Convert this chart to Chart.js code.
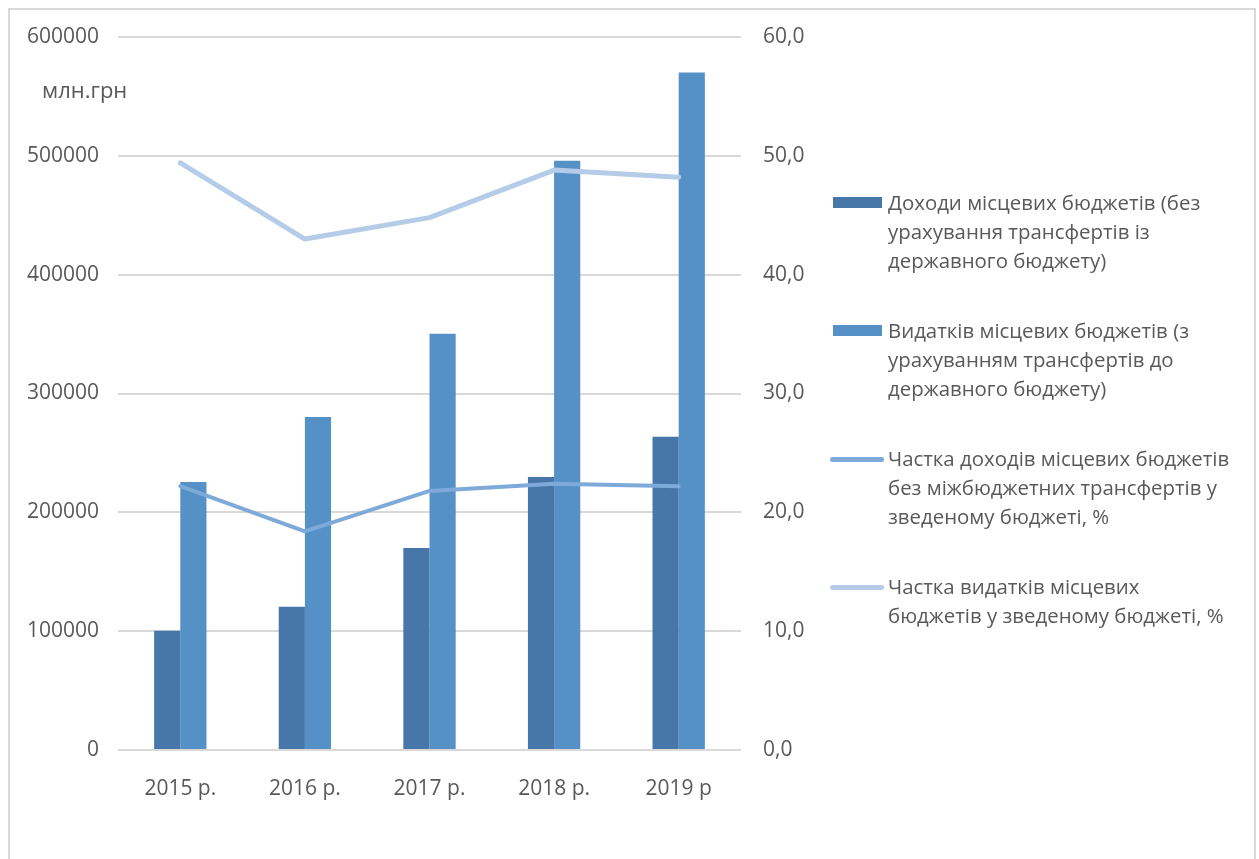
<!DOCTYPE html>
<html lang="uk">
<head>
<meta charset="utf-8">
<title>Доходи та видатки місцевих бюджетів</title>
<script src="https://cdn.jsdelivr.net/npm/chart.js@4.4.1/dist/chart.umd.min.js"></script>
<style>
  html, body { margin: 0; padding: 0; background: #fff; }
  body {
    width: 1259px; height: 859px; position: relative; overflow: hidden;
    font-family: 'Open Sans', sans-serif; color: #595959;
  }
  .frame {
    position: absolute; left: 8px; top: 8px; width: 1248px; height: 900px;
    border: 2px solid #d9d9d9; box-sizing: border-box;
  }
  .chart-box { position: absolute; left: 0; top: 0; width: 820px; height: 859px; }
  .unit { position: absolute; left: 42px; top: 73px; font-size: 22px; line-height: 32px; }
  .legend-item { position: absolute; left: 0; width: 1259px; height: 120px; }
  .legend-swatch { position: absolute; }
  .legend-text {
    position: absolute; left: 888px; top: 0;
    font-size: 20.4px; line-height: 29px; white-space: nowrap;
  }
</style>
</head>
<body>
<div class="frame"></div>
<div class="chart-box"><canvas id="budgetChart"></canvas></div>
<div class="unit">млн.грн</div>
<div id="legend"></div>

<script>
// Роки
const years = ['2015 р.', '2016 р.', '2017 р.', '2018 р.', '2019 р'];

// млн.грн
const revenue = [100400, 120600, 170000, 229800, 263500];
const expenditure = [225600, 280300, 350200, 495800, 570100];

// частка у зведеному бюджеті, %
const revenueShare = [22.2, 18.4, 21.8, 22.4, 22.2];
const expenditureShare = [49.4, 43.0, 44.8, 48.8, 48.2];

// підписи легенди (рядками, як у звіті)
const revenueLabel = ['Доходи місцевих бюджетів (без', 'урахування трансфертів із', 'державного бюджету)'];
const expenditureLabel = ['Видатків місцевих бюджетів (з', 'урахуванням трансфертів до', 'державного бюджету)'];
const revenueShareLabel = ['Частка доходів місцевих бюджетів', 'без міжбюджетних трансфертів у', 'зведеному бюджеті, %'];
const expenditureShareLabel = ['Частка видатків місцевих', 'бюджетів у зведеному бюджеті, %'];

const TEXT = '#595959';
const GRID = '#d9d9d9';

Chart.defaults.font.family = "'Open Sans', sans-serif";
Chart.defaults.color = TEXT;

const datasets = [
  {
    type: 'bar', label: revenueLabel.join(' '), lines: revenueLabel,
    data: revenue, backgroundColor: '#4677a8', yAxisID: 'y', order: 2,
    categoryPercentage: 0.42, barPercentage: 1,
  },
  {
    type: 'bar', label: expenditureLabel.join(' '), lines: expenditureLabel,
    data: expenditure, backgroundColor: '#5591c7', yAxisID: 'y', order: 2,
    categoryPercentage: 0.42, barPercentage: 1,
  },
  {
    type: 'line', label: revenueShareLabel.join(' '), lines: revenueShareLabel,
    data: revenueShare, borderColor: '#7eaad9', borderWidth: 4, yAxisID: 'y1', order: 1,
    pointRadius: 0, tension: 0, borderCapStyle: 'round', borderJoinStyle: 'round',
  },
  {
    type: 'line', label: expenditureShareLabel.join(' '), lines: expenditureShareLabel,
    data: expenditureShare, borderColor: '#b5cce8', borderWidth: 5, yAxisID: 'y1', order: 1,
    pointRadius: 0, tension: 0, borderCapStyle: 'round', borderJoinStyle: 'round',
  },
];

const tickFont = { size: 21 };

const chart = new Chart(document.getElementById('budgetChart'), {
  data: { labels: years, datasets },
  options: {
    responsive: true,
    maintainAspectRatio: false,
    animation: false,
    layout: { padding: { top: 37, bottom: 59, left: 0, right: 0 } },
    plugins: {
      legend: { display: false },
      tooltip: { enabled: true },
    },
    scales: {
      x: {
        grid: { display: false },
        border: { display: false },
        ticks: { font: tickFont, color: TEXT, padding: 18 },
        afterFit: (s) => { s.height = 50; },
      },
      y: {
        position: 'left',
        min: 0, max: 600000,
        ticks: { stepSize: 100000, font: tickFont, color: TEXT, padding: 19, callback: (v) => String(v) },
        grid: { color: GRID, lineWidth: 2, drawTicks: false },
        border: { display: false },
        afterFit: (s) => { s.width = 118; },
      },
      y1: {
        position: 'right',
        min: 0, max: 60,
        ticks: { stepSize: 10, font: tickFont, color: TEXT, padding: 22, callback: (v) => v.toFixed(1).replace('.', ',') },
        grid: { display: false, drawTicks: false },
        border: { display: false },
        afterFit: (s) => { s.width = 79; },
      },
    },
  },
});

// Легенда праворуч, з перенесенням рядків
function buildLegend(chart) {
  const box = document.getElementById('legend');
  chart.data.datasets.forEach((ds, i) => {
    const top = 188 + i * 128;
    const item = document.createElement('div');
    item.className = 'legend-item';
    item.style.top = top + 'px';

    const sw = document.createElement('div');
    sw.className = 'legend-swatch';
    if (ds.type === 'bar') {
      sw.style.cssText += `left:833px;top:${15 - 6}px;width:49px;height:11px;background:${ds.backgroundColor};`;
    } else {
      sw.style.cssText += `left:830px;top:${15 - 2}px;width:54px;height:5px;border-radius:3px;background:${ds.borderColor};`;
    }

    const txt = document.createElement('div');
    txt.className = 'legend-text';
    txt.innerHTML = ds.lines.join('<br>');

    item.appendChild(sw);
    item.appendChild(txt);
    box.appendChild(item);
  });
}
buildLegend(chart);
</script>
</body>
</html>
